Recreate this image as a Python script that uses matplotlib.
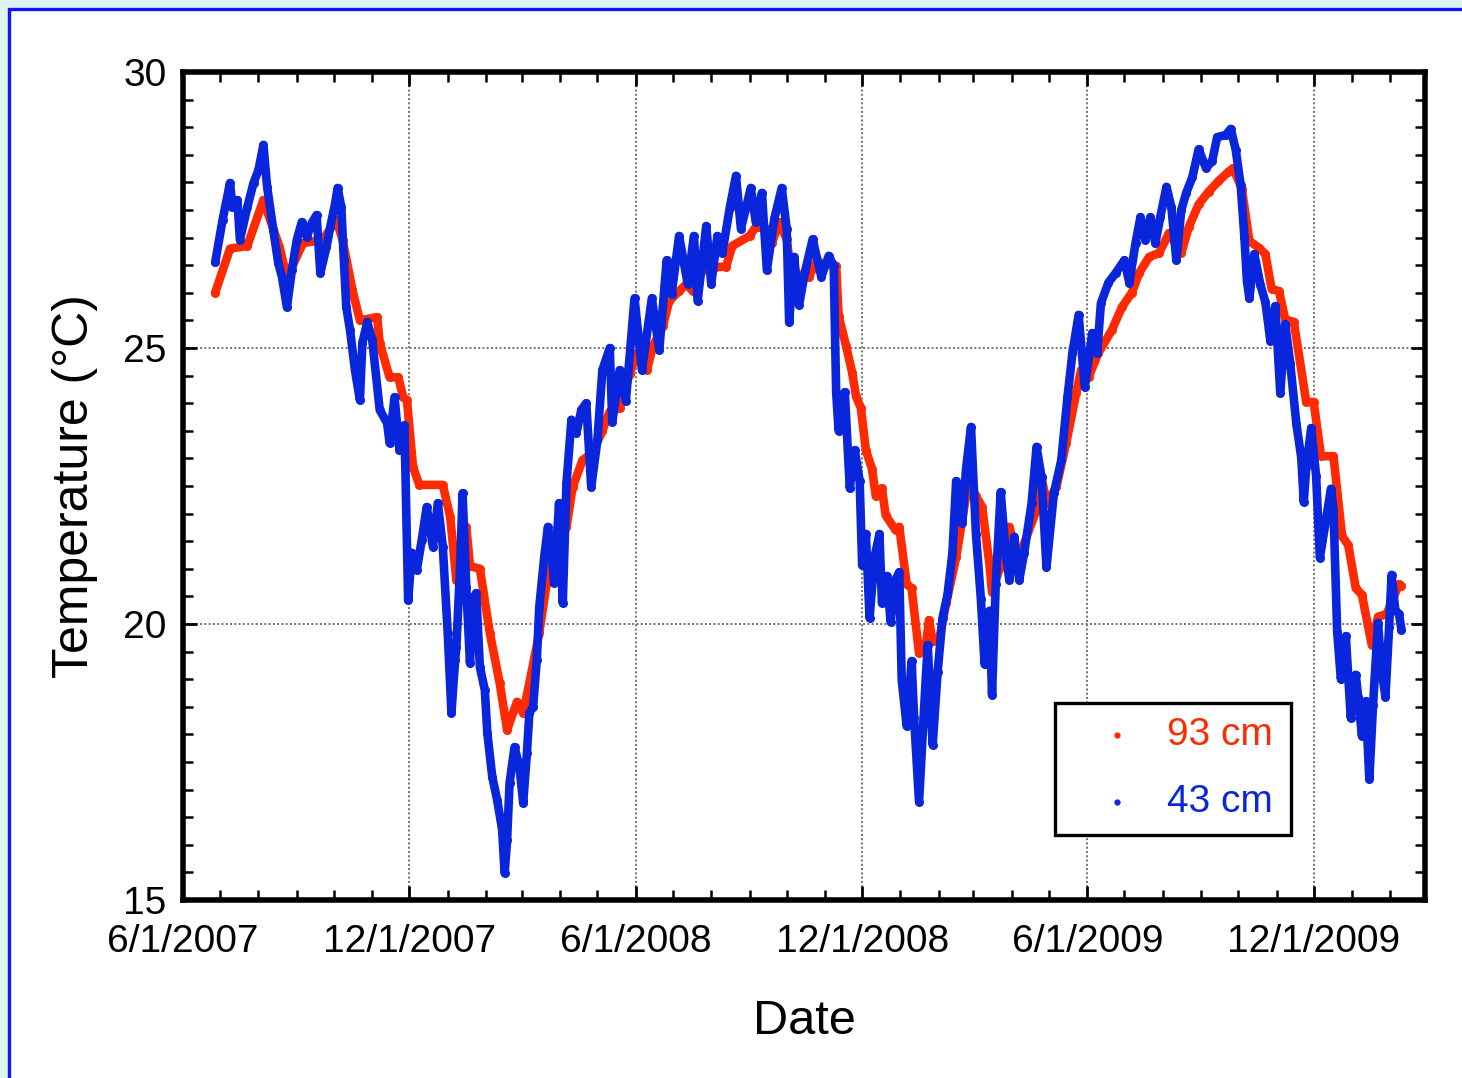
import numpy as np
import matplotlib
matplotlib.use("Agg")
import matplotlib.pyplot as plt
import matplotlib.dates as mdates
from matplotlib.ticker import MultipleLocator, FuncFormatter
from matplotlib.patches import Rectangle

plt.rcParams['font.family'] = ['Liberation Sans', 'DejaVu Sans']

# readings are stored as days elapsed since 6/1/2007
start_date = np.datetime64('2007-06-01')

# 93 cm sensor
deep_day = [
    26, 38, 52, 65, 78, 84, 97, 113, 124, 129,
    137, 143, 157, 159, 167, 174, 178, 181, 186, 191,
    210, 216, 221, 229, 232, 240, 248, 256, 262, 270,
    275, 280, 288, 294, 302, 310, 315, 323, 331, 339,
    345, 353, 361, 367, 375, 380, 388, 393, 401, 407,
    412, 420, 431, 439, 444, 458, 463, 472, 476, 482,
    488, 492, 496, 506, 512, 528, 530, 536, 541, 544,
    548, 552, 557, 560, 565, 568, 576, 579, 585, 589,
    595, 601, 603, 606, 611, 617, 625, 630, 635, 641,
    646, 652, 654, 660, 668, 673, 678, 690, 694, 698,
    706, 714, 722, 726, 732, 740, 751, 759, 767, 773,
    781, 789, 797, 807, 813, 821, 829, 837, 845, 849,
    856, 862, 870, 875, 880, 886, 891, 898, 908, 914,
    920, 930, 937, 942, 948, 953, 961, 966, 973, 983, 985,
]
deep_temp = [
    26.0, 26.8, 26.85, 27.68, 26.83, 26.27, 26.9, 26.96, 27.32, 26.96,
    26.05, 25.5, 25.56, 25.09, 24.47, 24.47, 24.11, 24.06, 22.84, 22.52,
    22.52, 21.94, 20.8, 21.76, 21.05, 21.0, 19.84, 18.93, 18.08, 18.59,
    18.39, 18.93, 19.84, 20.74, 21.34, 21.76, 22.48, 22.97, 23.1, 23.5,
    23.85, 23.91, 24.53, 24.91, 24.6, 25.04, 25.4, 25.85, 26.03, 26.16,
    26.03, 26.41, 26.47, 26.47, 26.85, 27.03, 27.19, 27.16, 26.9, 27.28,
    26.97, 26.29, 26.34, 26.29, 26.56, 26.49, 25.58, 25.04, 24.55, 24.13,
    23.91, 23.15, 22.81, 22.32, 22.46, 21.97, 21.7, 21.76, 20.72, 20.65,
    19.47, 19.69, 20.07, 19.69, 19.69, 20.38, 21.21, 21.9, 22.59, 22.32,
    22.12, 21.07, 20.58, 21.0, 21.76, 21.34, 21.34, 22.07, 22.66, 22.19,
    22.48, 23.28, 24.18, 24.6, 24.47, 24.91, 25.33, 25.74, 26.0, 26.36,
    26.65, 26.72, 27.08, 26.72, 27.19, 27.6, 27.83, 28.02, 28.19, 28.26,
    27.88, 26.94, 26.81, 26.7, 26.07, 26.03, 25.52, 25.47, 24.02, 24.02,
    23.04, 23.04, 21.59, 21.43, 20.65, 20.53, 19.62, 20.13, 20.18, 20.72, 20.69,
]

# 43 cm sensor
shallow_day = [
    26, 32, 38, 40, 44, 46, 52, 57, 61, 65,
    68, 73, 77, 80, 84, 88, 92, 96, 100, 104,
    108, 111, 116, 119, 123, 125, 128, 130, 132, 135,
    139, 143, 145, 149, 153, 159, 165, 167, 171, 175,
    179, 182, 185, 189, 193, 197, 202, 206, 210, 214,
    217, 220, 221, 224, 226, 229, 232, 234, 237, 240,
    244, 246, 250, 254, 258, 260, 262, 264, 268, 272,
    275, 278, 280, 283, 286, 288, 292, 295, 298, 300,
    304, 307, 310, 314, 318, 322, 326, 330, 335, 339,
    345, 347, 353, 358, 365, 371, 379, 385, 391, 395,
    401, 408, 413, 416, 423, 427, 432, 436, 442, 447,
    451, 459, 463, 468, 472, 478, 484, 488, 490, 494,
    498, 503, 509, 516, 522, 526, 528, 530, 535, 539,
    543, 547, 549, 552, 555, 559, 563, 565, 569, 572,
    576, 579, 581, 585, 589, 591, 595, 599, 602, 606,
    610, 614, 618, 622, 625, 630, 633, 637, 641, 645,
    648, 652, 654, 657, 661, 665, 668, 672, 676, 680,
    686, 690, 694, 698, 704, 710, 715, 719, 724, 729,
    735, 739, 742, 748, 754, 761, 765, 770, 774, 778,
    782, 786, 790, 795, 799, 803, 807, 811, 816, 821,
    827, 832, 836, 843, 847, 851, 855, 858, 860, 862,
    866, 871, 875, 879, 883, 887, 891, 895, 900, 904,
    906, 908, 912, 916, 919, 924, 928, 930, 933, 936,
    940, 944, 948, 950, 953, 956, 959, 962, 966, 969,
    972, 975, 977, 980, 983, 985,
]
shallow_temp = [
    26.55, 27.32, 27.99, 27.55, 27.68, 26.96, 27.55, 27.99, 28.22, 28.68,
    27.92, 27.14, 26.54, 26.29, 25.74, 26.41, 26.96, 27.28, 27.01, 27.26,
    27.41, 26.36, 26.83, 27.19, 27.62, 27.9, 27.55, 26.6, 25.74, 25.33,
    24.6, 24.06, 25.09, 25.47, 25.14, 23.88, 23.64, 23.28, 24.11, 23.15,
    23.6, 20.43, 21.29, 20.98, 21.52, 22.12, 21.4, 22.19, 21.4, 19.84,
    18.39, 19.35, 19.58, 21.03, 22.37, 20.67, 19.29, 20.43, 20.56, 19.22,
    18.8, 18.03, 17.23, 16.81, 16.27, 15.49, 16.09, 17.12, 17.77, 17.41,
    16.76, 17.66, 18.39, 18.5, 19.35, 20.31, 21.21, 21.76, 21.29, 20.74,
    22.19, 20.38, 22.55, 23.7, 23.46, 23.88, 24.0, 22.48, 23.33, 24.6,
    25.0, 23.66, 24.6, 24.04, 25.9, 24.6, 25.9, 24.96, 26.59, 25.98,
    27.03, 26.16, 27.03, 25.85, 27.21, 26.16, 27.03, 26.72, 27.54, 28.12,
    27.16, 27.9, 27.28, 27.81, 26.41, 27.34, 27.9, 27.16, 25.47, 26.65,
    25.78, 26.4, 26.97, 26.29, 26.67, 26.49, 24.2, 23.5, 24.2, 22.46,
    23.15, 22.59, 21.07, 21.63, 20.11, 21.21, 21.63, 20.38, 20.87, 20.04,
    20.8, 20.94, 18.99, 18.15, 19.33, 18.3, 16.78, 18.44, 19.62, 17.81,
    19.13, 20.11, 20.53, 21.29, 22.59, 21.83, 22.81, 23.57, 21.63, 20.45,
    19.27, 20.24, 18.72, 20.72, 22.39, 21.29, 20.8, 21.58, 20.8, 21.29,
    22.19, 23.21, 22.66, 21.03, 22.37, 22.97, 24.11, 24.91, 25.6, 24.29,
    25.27, 24.91, 25.81, 26.18, 26.36, 26.59, 26.18, 26.9, 27.37, 26.96,
    27.37, 26.9, 27.37, 27.92, 27.55, 26.59, 27.5, 27.81, 28.1, 28.6,
    28.26, 28.39, 28.82, 28.86, 28.97, 28.59, 27.95, 27.01, 26.23, 25.9,
    26.7, 26.14, 25.83, 25.13, 25.76, 24.18, 25.43, 24.73, 23.63, 23.01,
    22.21, 22.84, 23.55, 22.68, 21.2, 21.9, 22.45, 22.07, 19.86, 19.0,
    19.78, 18.3, 19.08, 18.68, 17.97, 18.6, 17.19, 18.53, 20.02, 19.15,
    18.68, 19.95, 20.89, 20.25, 20.18, 19.89,
]

series_labels = ['93 cm', '43 cm']
series_colors = ['#ff2a00', '#0a26dc']

y_min, y_max = 15, 30
x_min, x_max = np.datetime64('2007-06-01'), np.datetime64('2010-03-01')

deep_dates = start_date + np.array(deep_day, dtype='timedelta64[D]')
shallow_dates = start_date + np.array(shallow_day, dtype='timedelta64[D]')

W, H = 1462, 1078
fig = plt.figure(figsize=(W / 100, H / 100), dpi=100, facecolor='#dcf5f1')
fig.add_artist(Rectangle((9 / W, -0.05), 1.1, 1 - 9 / H + 0.05,
                         transform=fig.transFigure, facecolor='white',
                         edgecolor='#1414ff', linewidth=2.4, zorder=-5))

ax = fig.add_axes([183 / W, 1 - 900 / H, 1242 / W, 828 / H])

line_kw = dict(lw=6.2, marker='o', ms=6.5, mew=0, solid_joinstyle='round',
               solid_capstyle='round', zorder=3)
ax.plot(deep_dates, deep_temp, color=series_colors[0], **line_kw)
ax.plot(shallow_dates, shallow_temp, color=series_colors[1], **line_kw)

ax.set_xlim(x_min, x_max)
ax.set_ylim(y_min, y_max)

ax.xaxis.set_major_locator(mdates.MonthLocator(bymonth=(6, 12)))
ax.xaxis.set_minor_locator(mdates.MonthLocator())
ax.xaxis.set_major_formatter(FuncFormatter(
    lambda v, pos: (lambda d: f"{d.month}/{d.day}/{d.year}")(mdates.num2date(v))))
ax.yaxis.set_major_locator(MultipleLocator(5))
ax.yaxis.set_minor_locator(MultipleLocator(0.5))

ax.grid(True, which='major', color='#707070', linestyle=(0, (1, 1.2)), linewidth=1.4)
ax.set_axisbelow(True)

for s in ax.spines.values():
    s.set_linewidth(4)
ax.tick_params(which='both', direction='in', top=True, right=True, colors='black')
ax.tick_params(which='major', length=10, width=2, labelsize=28)
ax.tick_params(which='minor', length=7, width=1.8)
ax.tick_params(axis='x', which='major', pad=17)
ax.tick_params(axis='y', which='major', pad=12)

ax.set_xlabel('Date', fontsize=35, labelpad=28)
ax.set_ylabel('Temperature (°C)', fontsize=36, labelpad=18)

# legend box drawn by hand
ax.add_patch(Rectangle((0.7021, 0.0785), 0.19, 0.1594, transform=ax.transAxes,
                       facecolor='white', edgecolor='black', linewidth=2.4,
                       zorder=5, clip_on=False))
for row_y, label, color in zip([0.1993, 0.1184], series_labels, series_colors):
    ax.plot([0.752], [row_y], 'o', ms=3.5, color=color, transform=ax.transAxes,
            zorder=6, clip_on=False)
    ax.text(0.8776, row_y, label, color=color, fontsize=28, ha='right',
            va='center', transform=ax.transAxes, zorder=6)

fig.savefig('out.png', dpi=100, facecolor=fig.get_facecolor())
